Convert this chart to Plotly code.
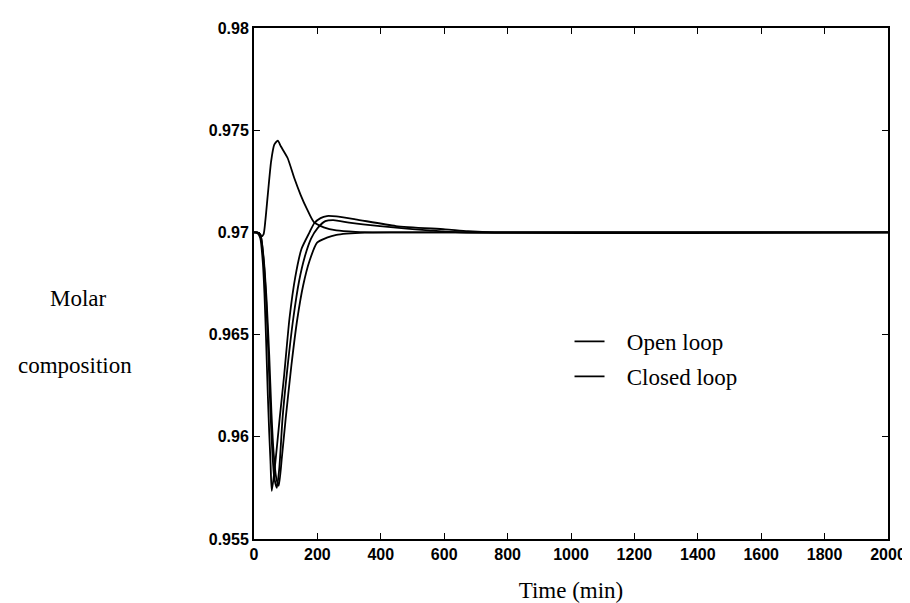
import plotly.graph_objects as go

# Open-loop / closed-loop responses (time in min, molar composition)
t_a = [0, 12, 23, 30, 36, 43.5, 54, 64, 75, 85, 106, 127, 147, 168, 189, 220, 260, 320, 400, 2000]
y_a = [0.9700, 0.96995, 0.9698, 0.9699, 0.9706, 0.97184, 0.97348, 0.97429, 0.97449, 0.9742,
       0.97364, 0.97266, 0.97184, 0.97111, 0.9705, 0.97025, 0.9701, 0.97003, 0.9700, 0.9700]

t_b = [0, 10, 20, 28, 33, 38, 43.5, 48, 52, 56, 65, 81, 95, 112, 130, 150, 175, 190, 210, 230,
       260, 320, 448, 603, 675, 760, 2000]
y_b = [0.9700, 0.9700, 0.9697, 0.9685, 0.9670, 0.9648, 0.9621, 0.9602, 0.9588, 0.95735, 0.9584,
       0.9609, 0.9630, 0.9658, 0.9678, 0.9692, 0.9700, 0.97045, 0.9707, 0.9708, 0.97078, 0.97064,
       0.97031, 0.97015, 0.97006, 0.9700, 0.9700]

t_c = [0, 10, 20, 30, 38, 45, 52, 58, 64, 72, 80, 90, 105, 124, 142, 160, 180, 200, 225, 250,
       300, 344, 448, 551, 650, 2000]
y_c = [0.9700, 0.9700, 0.9699, 0.9687, 0.9668, 0.9642, 0.9612, 0.9592, 0.9580, 0.9575, 0.9585,
       0.9609, 0.9633, 0.9658, 0.9676, 0.9688, 0.9697, 0.9702, 0.97055, 0.9706, 0.97048, 0.97039,
       0.97023, 0.9701, 0.9700, 0.9700]

t_d = [0, 10, 20, 30, 40, 48, 55, 62, 70, 78, 88, 100, 118, 137, 155, 175, 199, 230, 260, 292,
       350, 450, 2000]
y_d = [0.9700, 0.9700, 0.9699, 0.9688, 0.9666, 0.9640, 0.9612, 0.9592, 0.9580, 0.9576, 0.9590,
       0.9609, 0.9635, 0.9658, 0.9674, 0.9686, 0.9695, 0.96974, 0.96988, 0.96994, 0.96999, 0.9700,
       0.9700]

x_ticks = [0, 200, 400, 600, 800, 1000, 1200, 1400, 1600, 1800, 2000]
y_ticks = [0.955, 0.96, 0.965, 0.97, 0.975, 0.98]
y_tick_labels = ["0.955", "0.96", "0.965", "0.97", "0.975", "0.98"]

line = dict(color="black", width=1.8, shape="spline", smoothing=0.6)

fig = go.Figure()
fig.add_trace(go.Scatter(x=t_a, y=y_a, mode="lines", line=line,
                         name="\u00a0\u00a0\u00a0Open loop",
                         legendgroup="g1", showlegend=True))
fig.add_trace(go.Scatter(x=t_b, y=y_b, mode="lines", line=line,
                         name="\u00a0\u00a0\u00a0Closed loop",
                         legendgroup="g2", showlegend=True))
fig.add_trace(go.Scatter(x=t_c, y=y_c, mode="lines", line=line, showlegend=False))
fig.add_trace(go.Scatter(x=t_d, y=y_d, mode="lines", line=line, showlegend=False))

serif = "Liberation Serif, Times New Roman, serif"
sans = "Liberation Sans, Arial, sans-serif"

L, R, T, B = 246, 21, 20, 72
pw, ph = 910 - L - R, 603 - T - B


def px(xp):
    return (xp - L) / pw


def py(yp):
    return (603 - B - yp) / ph


fig.update_layout(
    width=910, height=603,
    margin=dict(l=L, r=R, t=T, b=B),
    paper_bgcolor="white", plot_bgcolor="white",
    showlegend=True,
    legend=dict(x=px(566), y=py(312), xanchor="left", yanchor="top",
                font=dict(family=serif, size=23, color="black"),
                bgcolor="rgba(0,0,0,0)", tracegroupgap=2, traceorder="grouped"),
    xaxis=dict(range=[0, 2000], tickvals=x_ticks, ticks="inside", ticklen=6,
               showline=True, linecolor="black", linewidth=2, mirror="ticks",
               showgrid=False, zeroline=False, tickcolor="black",
               tickfont=dict(family=sans, size=16, color="black", weight="bold"),
               title=dict(text="Time (min)", font=dict(family=serif, size=23, color="black"),
                          standoff=20)),
    yaxis=dict(range=[0.955, 0.98], tickvals=y_ticks, ticktext=y_tick_labels,
               ticks="inside", ticklen=6,
               showline=True, linecolor="black", linewidth=2, mirror="ticks",
               showgrid=False, zeroline=False, tickcolor="black",
               tickfont=dict(family=sans, size=16, color="black", weight="bold")),
    annotations=[
        dict(text="Molar", x=px(68), y=py(290), xref="paper", yref="paper", showarrow=False,
             xanchor="center", yanchor="middle",
             font=dict(family=serif, size=23, color="black")),
        dict(text="composition", x=px(64), y=py(357), xref="paper", yref="paper", showarrow=False,
             xanchor="center", yanchor="middle",
             font=dict(family=serif, size=23, color="black")),
    ],
)

fig.write_html("out.html")
